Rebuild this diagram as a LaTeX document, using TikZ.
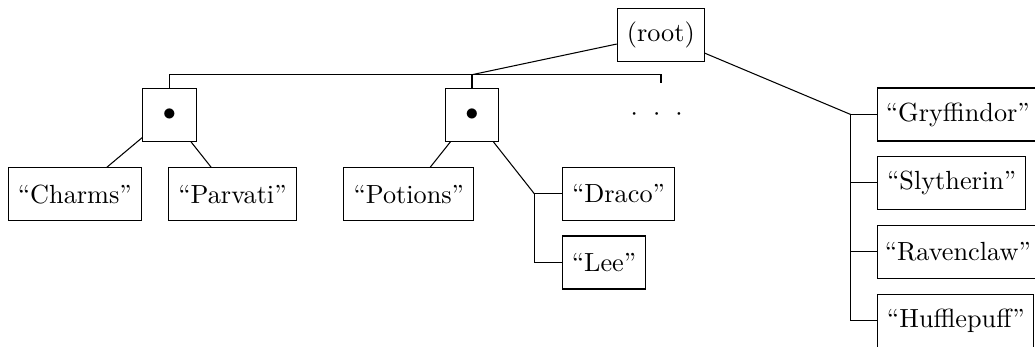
\documentclass[tikz,border=0pt]{standalone}
\begin{document}
\newlength{\pxu}
\setlength{\pxu}{0.381pt}
\tikzset{
  box/.style={draw, rectangle, minimum height=53\pxu, inner xsep=0pt, inner ysep=0pt,
              text width=#1\pxu, align=center},
  dotbox/.style={draw, rectangle, minimum width=53.5\pxu, minimum height=53.3\pxu, inner sep=0pt},
  conn/.style={draw, line width=0.4pt}
}
\begin{tikzpicture}[x=0.381pt,y=-0.381pt]
\clip (0,0) rectangle (1035,347);
% nodes
\node[box=87] (root) at (660.8,34.7) {(root)};
\node[dotbox] (b1) at (169.5,114.7) {$\bullet$};
\node[dotbox] (b2) at (472,114.7) {$\bullet$};
\node[inner sep=0pt] (dots) at (656.7,114.3) {$\cdot$\hspace{5.79pt}$\cdot$\hspace{5.79pt}$\cdot$};
\node[box=133] (charms) at (74.8,194.2) {``Charms''};
\node[box=127.6] (parvati) at (232.5,194.2) {``Parvati''};
\node[box=129.7] (potions) at (408.8,194.2) {``Potions''};
\node[box=112, anchor=west] (draco) at (562,193.7) {``Draco''};
\node[box=83, anchor=west] (lee) at (562,262.5) {``Lee''};
\node[box=160, anchor=west] (gry) at (877.3,114.5) {``Gryffindor''};
\node[box=147.7, anchor=west] (sly) at (877.3,182.9) {``Slytherin''};
\node[box=160, anchor=west] (rav) at (877.3,251.7) {``Ravenclaw''};
\node[box=156, anchor=west] (huf) at (877.3,320.8) {``Hufflepuff''};
% junction coordinates
\coordinate (busM) at (472,74.7);
\coordinate (stub) at (661,82.7);
\coordinate (K) at (534.3,193.7);
\coordinate (J) at (850.7,114.5);
% connectors
\draw[conn] (root) -- (busM);
\draw[conn] (b1.north) |- (stub |- busM) -- (stub);
\draw[conn] (b2.north) -- (busM);
\draw[conn] (b1) -- (charms);
\draw[conn] (b1) -- (parvati);
\draw[conn] (b2) -- (potions);
\draw[conn] (b2) -- (K);
\draw[conn] (K) -- (draco.west);
\draw[conn] (K) |- (lee.west);
\draw[conn] (root) -- (J);
\draw[conn] (J) -- (gry.west);
\draw[conn] (J |- sly.west) -- (sly.west);
\draw[conn] (J |- rav.west) -- (rav.west);
\draw[conn] (J) |- (huf.west);
\end{tikzpicture}
\end{document}
